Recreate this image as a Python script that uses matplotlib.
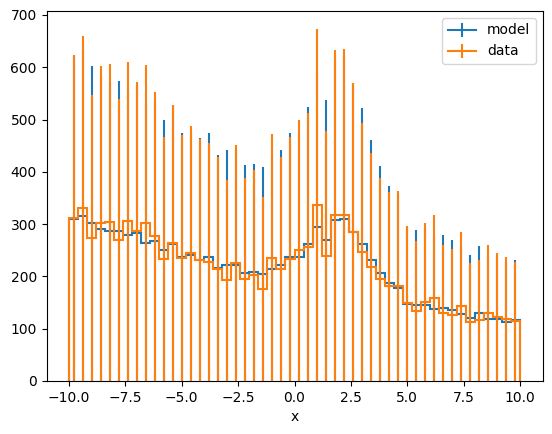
import numpy as np
import matplotlib
matplotlib.use("Agg")
import matplotlib.pyplot as plt

# 50 bins between -10 and 10
bin_edges = np.linspace(-10, 10, 51)

model = [310, 316, 301.5, 291.6, 285.9, 287.1, 279.5, 282.7, 264.8, 267.4,
         249.8, 262.9, 237.4, 240, 231.9, 237.4, 216.3, 221.1, 222, 206.7,
         207.7, 204.8, 213.5, 221.1, 237.4, 238, 262.3, 295.4, 268.9, 308.8,
         310.7, 284.6, 261.3, 230.7, 205.8, 186.6, 178.6, 147.4, 144.5, 146.1,
         138.4, 139.7, 135, 128.9, 120.6, 129.2, 119.3, 119.3, 113.5, 115.8]

data = [312.0, 330.2, 273.7, 301.5, 303.4, 269.2, 305.3, 286.2, 302.4, 276.6,
        232.9, 264.2, 235.5, 244.1, 231, 227.8, 214.1, 192.4, 225.9, 194.3,
        201.9, 175.5, 236.1, 213.7, 233.5, 249.8, 255.9, 336.9, 239.3, 316.8,
        317.8, 285.2, 246.3, 217.6, 194.3, 180.9, 181.9, 148.4, 134, 151.2,
        158.9, 130.2, 126.3, 142.6, 112.9, 115.8, 130.2, 122.5, 118.7, 113.9]

centers = 0.5 * (bin_edges[1:] + bin_edges[:-1])

fig = plt.figure(figsize=(5.52, 4.34), dpi=100)
ax = fig.add_axes([46.5 / 552, 53 / 434, 496 / 552, 370 / 434])

handles = []
for values, color, name in [(model, "C0", "model"), (data, "C1", "data")]:
    values = np.array(values)
    ax.stairs(values, bin_edges, color=color, linewidth=1.5)
    ax.errorbar(centers, values, yerr=values, fmt="none", ecolor=color, elinewidth=1.5)
    # empty errorbar just for the legend entry
    h = ax.errorbar([], [], yerr=[], color=color, label=name)
    handles.append(h)

ax.set_xlabel("x")
ax.legend(handles=handles, loc="upper right")

fig.savefig("out.png", dpi=100)
